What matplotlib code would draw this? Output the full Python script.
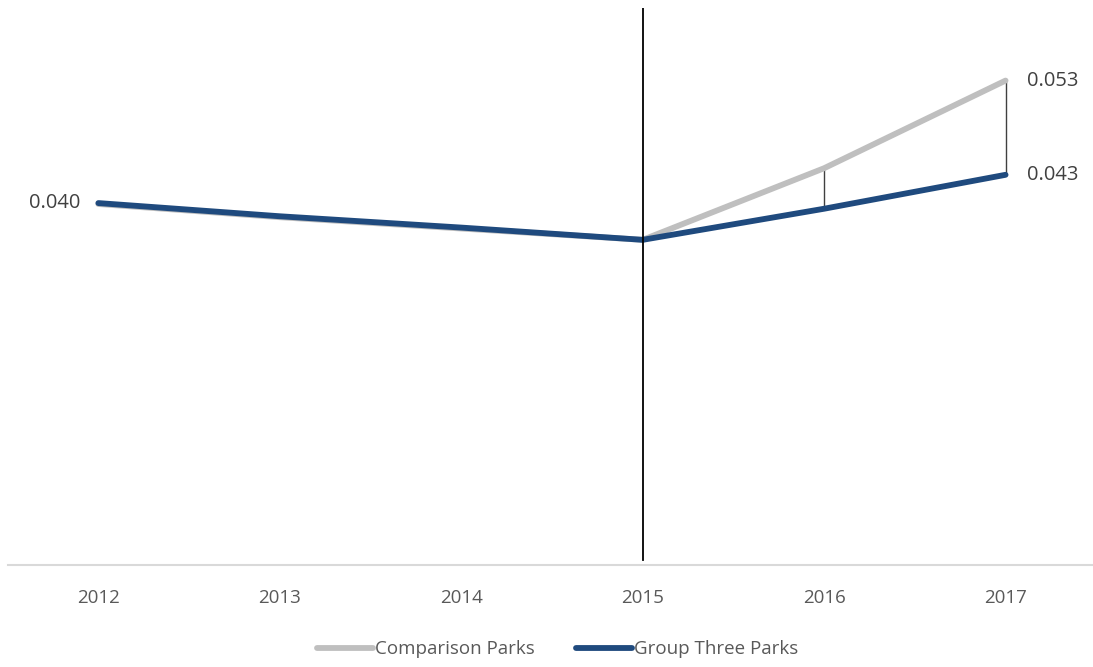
import matplotlib
matplotlib.use("Agg")
import matplotlib.pyplot as plt

plt.rcParams['font.family'] = ['Open Sans', 'DejaVu Sans']

# yearly values for the two park groups
years = ['2012', '2013', '2014', '2015', '2016', '2017']
comparison = [0.0399, 0.0385, 0.0373, 0.0361, 0.0437, 0.053]
group_three = [0.0400, 0.0386, 0.0374, 0.0361, 0.0394, 0.043]

gray = '#BFBFBF'
blue = '#1F4A7E'
text_col = '#404040'

fig = plt.figure(figsize=(10.93, 6.67), dpi=100)
ax = fig.add_axes([0.007, 0.153, 0.996, 0.835])

x = list(range(len(years)))
ax.plot(x, comparison, color=gray, lw=4.2, solid_capstyle='round',
        solid_joinstyle='round', label='Comparison Parks', zorder=3)
ax.plot(x, group_three, color=blue, lw=4.2, solid_capstyle='round',
        solid_joinstyle='round', label='Group Three Parks', zorder=4)

# drop lines between the two series after 2015
for i in (4, 5):
    ax.vlines(i, group_three[i], comparison[i], color='#404040', lw=1.0, zorder=2)

# 2015 marker line
ax.axvline(3, ymin=0.009, ymax=1.0, color='black', lw=1.3, zorder=5)

# value labels
ax.text(x[0] - 0.1, group_three[0], f'{group_three[0]:.3f}', ha='right', va='center',
        fontsize=14.5, color=text_col)
ax.text(x[5] + 0.12, comparison[5], f'{comparison[5]:.3f}', ha='left', va='center',
        fontsize=14.5, color=text_col)
ax.text(x[5] + 0.12, group_three[5], f'{group_three[5]:.3f}', ha='left', va='center',
        fontsize=14.5, color=text_col)

ax.set_xlim(-0.5, 5.5)
ax.set_ylim(0.0016, 0.0607)
ax.set_xticks(x)
ax.set_xticklabels(years, fontsize=13.5, color='#595959')
ax.tick_params(axis='x', length=0, pad=17)
ax.set_yticks([])
for side in ('top', 'right', 'left'):
    ax.spines[side].set_visible(False)
ax.spines['bottom'].set_color('#D9D9D9')
ax.spines['bottom'].set_linewidth(1.5)

leg = fig.legend(loc='lower center', bbox_to_anchor=(0.51, -0.012), ncol=2, frameon=False,
                 fontsize=13.5, handlelength=3.0, handletextpad=0.1, columnspacing=2.2)
for t in leg.get_texts():
    t.set_color('#595959')

fig.savefig('out.png', dpi=100)
